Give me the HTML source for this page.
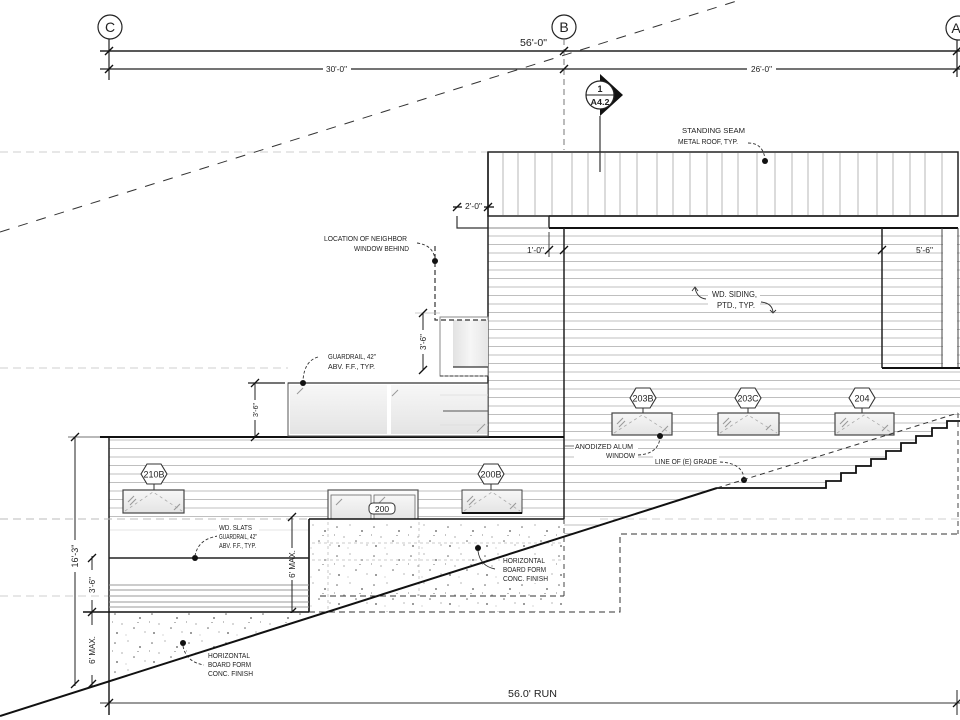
<!DOCTYPE html>
<html><head><meta charset="utf-8"><style>
html,body{margin:0;padding:0;background:#fff;}
svg{display:block;}
text{font-family:"Liberation Sans",sans-serif;fill:#222;}
</style></head><body>
<svg width="960" height="720" viewBox="0 0 960 720" xmlns="http://www.w3.org/2000/svg">
<defs>
  <linearGradient id="glass" x1="0" y1="0" x2="0" y2="1">
    <stop offset="0" stop-color="#f7f7f7"/><stop offset="1" stop-color="#e4e4e4"/>
  </linearGradient>
  <linearGradient id="glassH" x1="0" y1="0" x2="1" y2="0">
    <stop offset="0" stop-color="#e2e2e2"/><stop offset="0.5" stop-color="#f6f6f6"/><stop offset="1" stop-color="#e6e6e6"/>
  </linearGradient>
  <pattern id="speck" width="37" height="29" patternUnits="userSpaceOnUse">
    <rect width="37" height="29" fill="#fff"/>
    <circle cx="4" cy="5" r="0.8" fill="#666"/>
    <circle cx="17" cy="3" r="0.6" fill="#888"/>
    <circle cx="29" cy="9" r="0.9" fill="#555"/>
    <circle cx="11" cy="15" r="0.6" fill="#777"/>
    <circle cx="23" cy="19" r="0.8" fill="#666"/>
    <circle cx="34" cy="23" r="0.6" fill="#888"/>
    <circle cx="6" cy="24" r="0.9" fill="#555"/>
    <circle cx="15" cy="26" r="0.5" fill="#999"/>
    <rect x="26" y="13" width="2" height="0.7" fill="#999"/>
    <rect x="1" y="12" width="0.7" height="2" fill="#aaa"/>
  </pattern>
  <clipPath id="sidingClip">
    <path d="M488,228 H960 V421 H947 V428 H932 V436 H916 V443 H901 V451 H886 V459 H871 V466 H856 V473 H841 V481 H826 V488 H717 L564,537 V519 H109 V437 H488 Z"/>
  </clipPath>
</defs>
<rect width="960" height="720" fill="#fff"/>

<g stroke="#cfcfcf" stroke-width="1" stroke-dasharray="8,5" fill="none">
  <line x1="0" y1="152" x2="487" y2="152"/>
  <line x1="0" y1="368" x2="288" y2="368"/>
  <line x1="0" y1="519" x2="309" y2="519"/>
  <line x1="0" y1="596" x2="109" y2="596"/>
  <line x1="600" y1="519" x2="960" y2="519"/>
</g>

<g fill="none" stroke="#222" stroke-width="1.2">
  <circle cx="110" cy="27" r="12"/>
  <circle cx="564" cy="27" r="12"/>
  <circle cx="958" cy="28" r="12"/>
  <line x1="109" y1="39" x2="109" y2="80"/>
  <line x1="957" y1="40" x2="957" y2="77"/>
  <line x1="100" y1="51" x2="960" y2="51" stroke-width="1.6"/>
  <line x1="100" y1="69" x2="323" y2="69"/>
  <line x1="351" y1="69" x2="747" y2="69"/>
  <line x1="776" y1="69" x2="960" y2="69"/>
</g>
<line x1="564" y1="39" x2="564" y2="150" stroke="#777" stroke-width="1" stroke-dasharray="6,4"/>
<g stroke="#111" stroke-width="1.4">
  <line x1="105" y1="55" x2="113" y2="47"/><line x1="105" y1="73" x2="113" y2="65"/>
  <line x1="560" y1="55" x2="568" y2="47"/><line x1="560" y1="73" x2="568" y2="65"/>
  <line x1="953" y1="55" x2="961" y2="47"/><line x1="953" y1="73" x2="961" y2="65"/>
</g>
<text x="110" y="32" font-size="14" text-anchor="middle">C</text>
<text x="564" y="32" font-size="14" text-anchor="middle">B</text>
<text x="956" y="33" font-size="14" text-anchor="middle">A</text>
<text x="520" y="46" font-size="10" textLength="27" lengthAdjust="spacingAndGlyphs">56'-0"</text>
<text x="326" y="72" font-size="8" textLength="21" lengthAdjust="spacingAndGlyphs">30'-0"</text>
<text x="751" y="72" font-size="8" textLength="21" lengthAdjust="spacingAndGlyphs">26'-0"</text>

<line x1="0" y1="232" x2="740" y2="0" stroke="#333" stroke-width="1" stroke-dasharray="10,9"/>

<polygon points="600,74 623,95 600,116" fill="#111"/>
<circle cx="600" cy="95" r="14" fill="#fff" stroke="#222" stroke-width="1.2"/>
<line x1="586" y1="95" x2="614" y2="95" stroke="#222" stroke-width="1"/>
<text x="600" y="92" font-size="9" font-weight="bold" text-anchor="middle">1</text>
<text x="600" y="105" font-size="8.5" font-weight="bold" text-anchor="middle" textLength="19" lengthAdjust="spacingAndGlyphs">A4.2</text>
<line x1="600" y1="116" x2="600" y2="172" stroke="#333" stroke-width="1.2"/>

<rect x="488" y="152" width="470" height="64" fill="#fff" stroke="#222" stroke-width="1.5"/>
<g stroke="#a5a5a5" stroke-width="0.8">
  <line x1="503" y1="153" x2="503" y2="215"/><line x1="518" y1="153" x2="518" y2="215"/>
  <line x1="535" y1="153" x2="535" y2="215"/><line x1="552" y1="153" x2="552" y2="215"/>
  <line x1="572" y1="153" x2="572" y2="215"/><line x1="588" y1="153" x2="588" y2="215"/>
  <line x1="605" y1="153" x2="605" y2="215"/><line x1="620" y1="153" x2="620" y2="215"/>
  <line x1="637" y1="153" x2="637" y2="215"/><line x1="657" y1="153" x2="657" y2="215"/>
  <line x1="673" y1="153" x2="673" y2="215"/><line x1="690" y1="153" x2="690" y2="215"/>
  <line x1="707" y1="153" x2="707" y2="215"/><line x1="722" y1="153" x2="722" y2="215"/>
  <line x1="738" y1="153" x2="738" y2="215"/><line x1="757" y1="153" x2="757" y2="215"/>
  <line x1="775" y1="153" x2="775" y2="215"/><line x1="792" y1="153" x2="792" y2="215"/>
  <line x1="808" y1="153" x2="808" y2="215"/><line x1="823" y1="153" x2="823" y2="215"/>
  <line x1="840" y1="153" x2="840" y2="215"/><line x1="858" y1="153" x2="858" y2="215"/>
  <line x1="877" y1="153" x2="877" y2="215"/><line x1="893" y1="153" x2="893" y2="215"/>
  <line x1="910" y1="153" x2="910" y2="215"/><line x1="925" y1="153" x2="925" y2="215"/>
  <line x1="942" y1="153" x2="942" y2="215"/>
</g>
<line x1="600" y1="152" x2="600" y2="172" stroke="#333" stroke-width="1.2"/>

<g clip-path="url(#sidingClip)" stroke="#ababab" stroke-width="0.8">
  <path d="M100,236H960M100,244.5H960M100,253H960M100,261.5H960M100,270H960M100,278.5H960M100,287H960M100,295.5H960M100,304H960M100,312.5H960M100,321H960M100,329.5H960M100,338H960M100,346.5H960M100,355H960M100,363.5H960M100,372H960M100,380.5H960M100,389H960M100,397.5H960M100,406H960M100,414.5H960M100,423H960M100,431.5H960M100,440H960M100,448.5H960M100,457H960M100,465.5H960M100,474H960M100,482.5H960M100,491H960M100,499.5H960M100,508H960M100,516.5H960M100,525H960M100,533.5H960"/>
</g>
<rect x="943" y="229" width="14" height="138" fill="#fff"/>

<line x1="549" y1="216" x2="958" y2="216" stroke="#222" stroke-width="1.4"/>
<line x1="549" y1="216" x2="549" y2="228" stroke="#222" stroke-width="1.4"/>
<line x1="549" y1="228" x2="958" y2="228" stroke="#111" stroke-width="2"/>
<line x1="488" y1="228" x2="549" y2="228" stroke="#888" stroke-width="0.9"/>
<path d="M457,216 V228 H488" fill="none" stroke="#333" stroke-width="1.2"/>
<line x1="549" y1="232" x2="549" y2="257" stroke="#444" stroke-width="1"/>

<line x1="488" y1="152" x2="488" y2="437" stroke="#222" stroke-width="1.5"/>
<line x1="564" y1="228" x2="564" y2="519" stroke="#222" stroke-width="1.5"/>
<line x1="109" y1="437" x2="109" y2="715" stroke="#222" stroke-width="1.5"/>
<line x1="100" y1="437" x2="564" y2="437" stroke="#111" stroke-width="2"/>

<line x1="882" y1="228" x2="882" y2="368" stroke="#222" stroke-width="1.5"/>
<line x1="942" y1="228" x2="942" y2="368" stroke="#444" stroke-width="1"/>
<line x1="958" y1="228" x2="958" y2="368" stroke="#444" stroke-width="1"/>
<line x1="882" y1="368" x2="960" y2="368" stroke="#111" stroke-width="2"/>
<text x="916" y="253" font-size="8" textLength="17" lengthAdjust="spacingAndGlyphs">5'-6"</text>
<text x="527" y="253" font-size="8" textLength="17" lengthAdjust="spacingAndGlyphs">1'-0"</text>
<text x="465" y="209" font-size="8" textLength="17" lengthAdjust="spacingAndGlyphs">2'-0"</text>
<g stroke="#111" stroke-width="1.3">
  <line x1="545" y1="254" x2="553" y2="246"/><line x1="560" y1="254" x2="568" y2="246"/>
  <line x1="878" y1="254" x2="886" y2="246"/>
  <line x1="453" y1="211" x2="461" y2="203"/><line x1="484" y1="211" x2="492" y2="203"/>
  <line x1="453" y1="207" x2="462" y2="207"/><line x1="484" y1="207" x2="494" y2="207"/>
</g>

<rect x="440" y="317" width="48" height="59" fill="#fff" stroke="#888" stroke-width="1"/>
<rect x="453" y="320" width="35" height="47" fill="url(#glassH)"/>
<line x1="453" y1="367" x2="488" y2="367" stroke="#333" stroke-width="1.2"/>
<line x1="440" y1="376" x2="488" y2="376" stroke="#333" stroke-width="1" stroke-dasharray="3,2"/>
<path d="M435,246 V320 H487" fill="none" stroke="#333" stroke-width="1.2" stroke-dasharray="5,3"/>
<circle cx="435" cy="261" r="3" fill="#111"/>
<path d="M417,243 Q433,245 435,259" fill="none" stroke="#333" stroke-width="0.9" stroke-dasharray="3,2"/>
<text x="324" y="241" font-size="7" textLength="83" lengthAdjust="spacingAndGlyphs">LOCATION OF NEIGHBOR</text>
<text x="354" y="251" font-size="7" textLength="55" lengthAdjust="spacingAndGlyphs">WINDOW BEHIND</text>
<line x1="415" y1="313" x2="440" y2="313" stroke="#bbb" stroke-width="0.8"/>
<line x1="423" y1="313" x2="423" y2="330" stroke="#222" stroke-width="1"/>
<line x1="423" y1="354" x2="423" y2="370" stroke="#222" stroke-width="1"/>
<g stroke="#111" stroke-width="1.3"><line x1="419" y1="317" x2="427" y2="309"/><line x1="419" y1="374" x2="427" y2="366"/></g>
<text transform="translate(426,342) rotate(-90)" font-size="8" text-anchor="middle">3'-6"</text>

<rect x="288" y="383" width="200" height="53" fill="#fff" stroke="#555" stroke-width="1"/>
<rect x="290" y="385" width="97" height="49" fill="url(#glass)"/>
<rect x="391" y="385" width="96" height="49" fill="url(#glass)"/>
<line x1="443" y1="411" x2="488" y2="411" stroke="#555" stroke-width="1"/>
<line x1="440" y1="395" x2="488" y2="395" stroke="#ddd" stroke-width="0.8"/>
<line x1="440" y1="425" x2="488" y2="425" stroke="#ddd" stroke-width="0.8"/>
<line x1="288" y1="383" x2="488" y2="383" stroke="#333" stroke-width="1.2"/>
<g stroke="#999" stroke-width="1"><line x1="297" y1="394" x2="303" y2="388"/><line x1="392" y1="396" x2="398" y2="390"/><line x1="477" y1="432" x2="485" y2="424"/></g>
<circle cx="303" cy="383" r="3" fill="#111"/>
<path d="M318,357 Q304,361 303,381" fill="none" stroke="#333" stroke-width="0.9" stroke-dasharray="3,2"/>
<text x="328" y="359" font-size="7" textLength="48" lengthAdjust="spacingAndGlyphs">GUARDRAIL, 42"</text>
<text x="328" y="369" font-size="7" textLength="47" lengthAdjust="spacingAndGlyphs">ABV. F.F., TYP.</text>
<line x1="248" y1="383" x2="285" y2="383" stroke="#222" stroke-width="1.2"/>
<line x1="255" y1="383" x2="255" y2="400" stroke="#222" stroke-width="1"/>
<line x1="255" y1="420" x2="255" y2="437" stroke="#222" stroke-width="1"/>
<g stroke="#111" stroke-width="1.3"><line x1="251" y1="387" x2="259" y2="379"/><line x1="251" y1="441" x2="259" y2="433"/></g>
<text transform="translate(258,410) rotate(-90)" font-size="7" text-anchor="middle">3'-6"</text>

<rect x="708" y="288" width="52" height="22" fill="#fff"/>
<text x="712" y="297" font-size="8" textLength="45" lengthAdjust="spacingAndGlyphs">WD. SIDING,</text>
<text x="717" y="308" font-size="8" textLength="38" lengthAdjust="spacingAndGlyphs">PTD., TYP.</text>
<path d="M706,299 Q697,298 695,288" fill="none" stroke="#333" stroke-width="0.9"/>
<path d="M692,291 L695,287 L698,291" fill="none" stroke="#333" stroke-width="0.9"/>
<path d="M761,302 Q772,303 773,312" fill="none" stroke="#333" stroke-width="0.9"/>
<path d="M770,310 L773,313 L776,310" fill="none" stroke="#333" stroke-width="0.9"/>

<text x="682" y="133" font-size="7" textLength="63" lengthAdjust="spacingAndGlyphs">STANDING SEAM</text>
<text x="678" y="144" font-size="7" textLength="60" lengthAdjust="spacingAndGlyphs">METAL ROOF, TYP.</text>
<path d="M748,143 Q763,143 765,159" fill="none" stroke="#333" stroke-width="0.9" stroke-dasharray="3,2"/>
<circle cx="765" cy="161" r="3" fill="#111"/>

<g>
  <rect x="612" y="413" width="60" height="22" fill="url(#glass)" stroke="#444" stroke-width="1.2"/>
  <path d="M614,433 L642,415 L670,433" fill="none" stroke="#aaa" stroke-width="0.8" stroke-dasharray="3,3"/>
  <rect x="718" y="413" width="61" height="22" fill="url(#glass)" stroke="#444" stroke-width="1.2"/>
  <path d="M720,433 L748,415 L777,433" fill="none" stroke="#aaa" stroke-width="0.8" stroke-dasharray="3,3"/>
  <rect x="835" y="413" width="59" height="22" fill="url(#glass)" stroke="#444" stroke-width="1.2"/>
  <path d="M837,433 L864,415 L892,433" fill="none" stroke="#aaa" stroke-width="0.8" stroke-dasharray="3,3"/>
  <g stroke="#999" stroke-width="1.1">
    <line x1="617" y1="424" x2="623" y2="418"/><line x1="619" y1="427" x2="625" y2="421"/><line x1="662" y1="432" x2="668" y2="426"/>
    <line x1="723" y1="424" x2="729" y2="418"/><line x1="725" y1="427" x2="731" y2="421"/><line x1="766" y1="430" x2="771" y2="425"/>
    <line x1="840" y1="424" x2="846" y2="418"/><line x1="842" y1="427" x2="848" y2="421"/><line x1="882" y1="431" x2="888" y2="425"/>
  </g>
</g>
<g fill="#fff" stroke="#333" stroke-width="1.1">
  <polygon points="630,398 636,388 650,388 656,398 650,408 636,408"/>
  <polygon points="735,398 741,388 755,388 761,398 755,408 741,408"/>
  <polygon points="849,398 855,388 869,388 875,398 869,408 855,408"/>
</g>
<g stroke="#333" stroke-width="1"><line x1="643" y1="408" x2="643" y2="413"/><line x1="748" y1="408" x2="748" y2="413"/><line x1="862" y1="408" x2="862" y2="413"/></g>
<text x="643" y="401.5" font-size="9" text-anchor="middle" textLength="21" lengthAdjust="spacingAndGlyphs">203B</text>
<text x="748" y="401.5" font-size="9" text-anchor="middle" textLength="21" lengthAdjust="spacingAndGlyphs">203C</text>
<text x="862" y="401.5" font-size="9" text-anchor="middle">204</text>

<rect x="574" y="441" width="64" height="18" fill="#fff"/>
<text x="575" y="449" font-size="7" textLength="58" lengthAdjust="spacingAndGlyphs">ANODIZED ALUM</text>
<text x="606" y="458" font-size="7" textLength="29" lengthAdjust="spacingAndGlyphs">WINDOW</text>
<line x1="564" y1="446" x2="574" y2="446" stroke="#555" stroke-width="0.8"/>
<path d="M638,455 Q658,454 660,438" fill="none" stroke="#333" stroke-width="0.9" stroke-dasharray="3,2"/>
<circle cx="660" cy="436" r="3" fill="#111"/>
<rect x="653" y="456" width="66" height="9" fill="#fff"/>
<text x="655" y="464" font-size="7" textLength="62" lengthAdjust="spacingAndGlyphs">LINE OF (E) GRADE</text>
<path d="M720,462 Q742,463 744,478" fill="none" stroke="#333" stroke-width="0.9" stroke-dasharray="3,2"/>
<circle cx="744" cy="480" r="3" fill="#111"/>

<path d="M717,488 H826 V481 H841 V473 H856 V466 H871 V459 H886 V451 H901 V443 H916 V436 H932 V428 H947 V421 H960" fill="none" stroke="#111" stroke-width="1.8"/>
<line x1="717" y1="488" x2="958" y2="413" stroke="#333" stroke-width="1" stroke-dasharray="5,4"/>
<line x1="958" y1="413" x2="958" y2="534" stroke="#444" stroke-width="1" stroke-dasharray="5,4"/>

<rect x="123" y="490" width="61" height="23" fill="url(#glass)" stroke="#444" stroke-width="1.2"/>
<path d="M125,511 L153,492 L182,511" fill="none" stroke="#aaa" stroke-width="0.8" stroke-dasharray="3,3"/>
<rect x="462" y="490" width="60" height="23" fill="url(#glass)" stroke="#444" stroke-width="1"/>
<path d="M464,511 L492,492 L520,511" fill="none" stroke="#aaa" stroke-width="0.8" stroke-dasharray="3,3"/>
<line x1="462" y1="513" x2="522" y2="513" stroke="#111" stroke-width="2"/>
<rect x="328" y="490" width="90" height="30" fill="#fafafa" stroke="#555" stroke-width="1.2"/>
<rect x="331" y="495" width="40" height="25" fill="url(#glass)" stroke="#666" stroke-width="0.8"/>
<rect x="374" y="495" width="41" height="25" fill="url(#glass)" stroke="#666" stroke-width="0.8"/>
<g stroke="#999" stroke-width="1.1">
  <line x1="128" y1="502" x2="134" y2="496"/><line x1="130" y1="505" x2="136" y2="499"/><line x1="174" y1="510" x2="180" y2="504"/>
  <line x1="467" y1="502" x2="473" y2="496"/><line x1="469" y1="505" x2="475" y2="499"/><line x1="510" y1="509" x2="516" y2="503"/>
  <line x1="336" y1="505" x2="342" y2="499"/><line x1="379" y1="503" x2="385" y2="497"/>
</g>
<rect x="369" y="503" width="26" height="11" rx="4" fill="#fff" stroke="#333" stroke-width="1"/>
<text x="382" y="512" font-size="8.5" text-anchor="middle">200</text>
<g fill="#fff" stroke="#333" stroke-width="1.1">
  <polygon points="141,474 147,464 161,464 167,474 161,484 147,484"/>
  <polygon points="478,474 484,464 498,464 504,474 498,484 484,484"/>
</g>
<g stroke="#333" stroke-width="1"><line x1="154" y1="484" x2="154" y2="490"/><line x1="491" y1="484" x2="491" y2="490"/></g>
<text x="154" y="477.5" font-size="9" text-anchor="middle" textLength="21" lengthAdjust="spacingAndGlyphs">210B</text>
<text x="491" y="477.5" font-size="9" text-anchor="middle" textLength="21" lengthAdjust="spacingAndGlyphs">200B</text>

<rect x="309" y="519" width="255" height="93" fill="url(#speck)"/>
<line x1="309" y1="519" x2="564" y2="519" stroke="#111" stroke-width="1.6"/>
<line x1="309" y1="519" x2="309" y2="612" stroke="#111" stroke-width="1.6"/>
<line x1="564" y1="519" x2="564" y2="596" stroke="#444" stroke-width="1" stroke-dasharray="5,4"/>
<g stroke="#bbb" stroke-width="0.8" stroke-dasharray="3,3">
  <line x1="328" y1="522" x2="328" y2="612"/><line x1="419" y1="522" x2="419" y2="596"/>
  <line x1="312" y1="543" x2="564" y2="543"/><line x1="312" y1="560" x2="564" y2="560"/>
</g>
<g stroke="#333" stroke-width="1" stroke-dasharray="6,4" fill="none">
  <line x1="320" y1="596" x2="564" y2="596"/>
  <path d="M309,612 H620 V534 H960"/>
</g>
<circle cx="478" cy="548" r="3" fill="#111"/>
<path d="M478,551 Q480,566 495,569" fill="none" stroke="#333" stroke-width="0.9"/>
<rect x="500" y="555" width="50" height="28" fill="#fff"/>
<text x="503" y="563" font-size="7" textLength="42" lengthAdjust="spacingAndGlyphs">HORIZONTAL</text>
<text x="503" y="572" font-size="7" textLength="43" lengthAdjust="spacingAndGlyphs">BOARD FORM</text>
<text x="503" y="581" font-size="7" textLength="45" lengthAdjust="spacingAndGlyphs">CONC. FINISH</text>

<rect x="110" y="520" width="198" height="91" fill="#fff"/>
<line x1="0" y1="519" x2="309" y2="519" stroke="#bbb" stroke-width="1" stroke-dasharray="8,5"/>
<line x1="110" y1="530" x2="308" y2="530" stroke="#ddd" stroke-width="0.8"/>
<line x1="109" y1="558" x2="309" y2="558" stroke="#222" stroke-width="1.6"/>
<g stroke="#999" stroke-width="0.9">
  <line x1="109" y1="585" x2="309" y2="585"/><line x1="109" y1="590" x2="309" y2="590"/>
  <line x1="109" y1="596" x2="309" y2="596"/><line x1="109" y1="602" x2="309" y2="602"/>
  <line x1="109" y1="607" x2="309" y2="607"/>
</g>
<line x1="83" y1="612" x2="309" y2="612" stroke="#111" stroke-width="1.6"/>
<circle cx="195" cy="558" r="3" fill="#111"/>
<path d="M218,536 Q198,539 195,556" fill="none" stroke="#333" stroke-width="0.9" stroke-dasharray="3,2"/>
<rect x="217" y="521" width="42" height="28" fill="#fff"/>
<text x="219" y="530" font-size="7" textLength="33" lengthAdjust="spacingAndGlyphs">WD. SLATS</text>
<text x="219" y="539" font-size="7" textLength="38" lengthAdjust="spacingAndGlyphs">GUARDRAIL, 42"</text>
<text x="219" y="548" font-size="7" textLength="37" lengthAdjust="spacingAndGlyphs">ABV. F.F., TYP.</text>
<line x1="292" y1="517" x2="292" y2="548" stroke="#222" stroke-width="1"/>
<line x1="292" y1="580" x2="292" y2="612" stroke="#222" stroke-width="1"/>
<g stroke="#111" stroke-width="1.3"><line x1="288" y1="521" x2="296" y2="513"/><line x1="288" y1="616" x2="296" y2="608"/></g>
<text transform="translate(295,564) rotate(-90)" font-size="8" text-anchor="middle">6' MAX.</text>

<polygon points="110,613 309,613 309,617 110,681" fill="url(#speck)"/>
<circle cx="183" cy="643" r="3" fill="#111"/>
<path d="M183,646 Q186,662 204,665" fill="none" stroke="#333" stroke-width="0.9" stroke-dasharray="3,2"/>
<rect x="206" y="650" width="48" height="28" fill="#fff"/>
<text x="208" y="658" font-size="7" textLength="42" lengthAdjust="spacingAndGlyphs">HORIZONTAL</text>
<text x="208" y="667" font-size="7" textLength="43" lengthAdjust="spacingAndGlyphs">BOARD FORM</text>
<text x="208" y="676" font-size="7" textLength="45" lengthAdjust="spacingAndGlyphs">CONC. FINISH</text>

<line x1="0" y1="716" x2="717" y2="488" stroke="#111" stroke-width="2"/>

<line x1="68" y1="437" x2="100" y2="437" stroke="#444" stroke-width="0.8"/>
<line x1="75" y1="437" x2="75" y2="540" stroke="#222" stroke-width="1"/>
<line x1="75" y1="572" x2="75" y2="686" stroke="#222" stroke-width="1"/>
<line x1="92" y1="556" x2="92" y2="570" stroke="#222" stroke-width="1"/>
<line x1="92" y1="600" x2="92" y2="625" stroke="#222" stroke-width="1"/>
<line x1="92" y1="675" x2="92" y2="686" stroke="#222" stroke-width="1"/>
<g stroke="#111" stroke-width="1.3">
  <line x1="71" y1="441" x2="79" y2="433"/><line x1="71" y1="688" x2="79" y2="680"/>
  <line x1="88" y1="562" x2="96" y2="554"/><line x1="88" y1="616" x2="96" y2="608"/><line x1="88" y1="688" x2="96" y2="680"/>
</g>
<text transform="translate(78,556) rotate(-90)" font-size="9" text-anchor="middle">16'-3"</text>
<text transform="translate(95,585) rotate(-90)" font-size="8" text-anchor="middle">3'-6"</text>
<text transform="translate(95,650) rotate(-90)" font-size="8" text-anchor="middle">6' MAX.</text>

<line x1="100" y1="703" x2="960" y2="703" stroke="#333" stroke-width="1"/>
<line x1="957" y1="690" x2="957" y2="715" stroke="#222" stroke-width="1"/>
<g stroke="#111" stroke-width="1.3"><line x1="105" y1="707" x2="113" y2="699"/><line x1="953" y1="707" x2="961" y2="699"/></g>
<text x="508" y="697" font-size="10" textLength="49" lengthAdjust="spacingAndGlyphs">56.0' RUN</text>
</svg>
</body></html>
